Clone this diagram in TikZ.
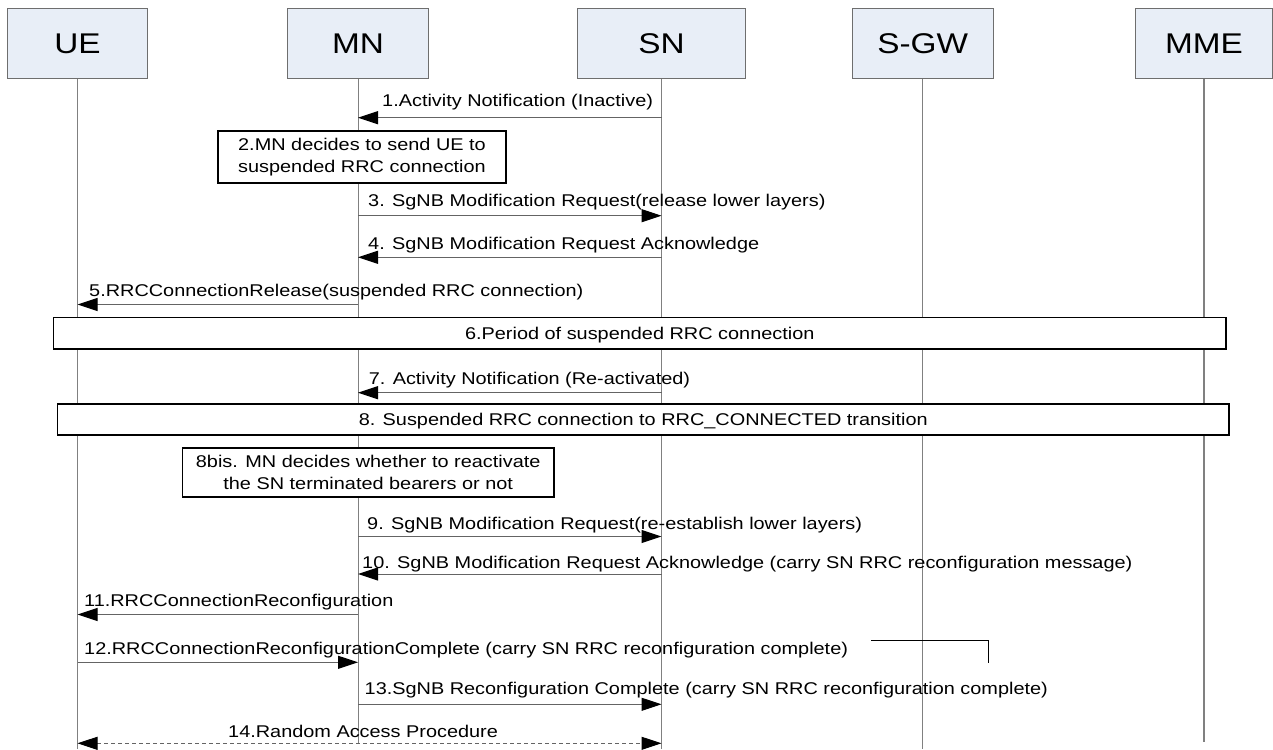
\documentclass[tikz,border=0pt]{standalone}
\usepackage{fontspec}
\setmainfont{Liberation Sans}
\newfontfamily\dfont[FakeStretch=1.17]{Liberation Sans}
\usetikzlibrary{arrows.meta}
\definecolor{hdrfill}{RGB}{232,238,247}
\definecolor{hdrline}{RGB}{110,110,110}
\definecolor{lifegray}{RGB}{128,128,128}
\definecolor{shaft}{RGB}{100,100,100}
\begin{document}
\begin{tikzpicture}[x=1pt,y=-1pt,
  hdr/.style={draw=hdrline,line width=1pt,fill=hdrfill,minimum height=70pt,inner sep=0pt,
    font=\dfont\fontsize{28.5}{34}\selectfont},
  life/.style={draw=lifegray,line width=1pt},
  msg/.style={draw=shaft,line width=1pt,-{Triangle[length=20pt,width=13pt,color=black]}},
  both/.style={draw=shaft,line width=1pt,dash pattern=on 4pt off 3pt,
    {Triangle[length=20pt,width=13pt,color=black]}-{Triangle[length=20pt,width=13pt,color=black]}},
  lbl/.style={anchor=base west,inner sep=0pt,font=\dfont\fontsize{17}{20}\selectfont},
  stepbox/.style={draw=black,line width=1.5pt,fill=white,inner sep=0pt,
    font=\dfont\fontsize{17}{22}\selectfont,align=center},
  onebox/.style={stepbox,text height=12.2pt,text depth=0pt},
  stray/.style={draw=black,line width=1pt}]
\useasboundingbox (0,0) rectangle (1273,749);

% header boxes
\node[hdr,minimum width=140pt] (ue) at (77.5,44) {UE};
\node[hdr,minimum width=141pt] (mn) at (358,44) {MN};
\node[hdr,minimum width=168pt] (sn) at (661.5,44) {SN};
\node[hdr,minimum width=141pt] (sgw) at (922.7,44) {S-GW};
\node[hdr,minimum width=137pt] (mme) at (1204,44) {MME};

% lifelines
\draw[life] (ue.south) -- (ue.south |- 0,749);
\draw[life] (mn.south) -- (mn.south |- 0,743);
\draw[life] (sn.south) -- (sn.south |- 0,749);
\draw[life] (sgw.south) -- (sgw.south |- 0,749);
\draw[life,line width=1.5pt] (mme.south) -- (mme.south |- 0,741.7);

% 1
\draw[msg] (sn.south |- 0,117.7) -- (mn.south |- 0,117.7);
\node[lbl] (l1) at (382,106.7) {1.Activity Notification (Inactive)};
% 2
\node[stepbox,minimum width=288pt,minimum height=52pt] (b2) at (362,157)
  {2.MN decides to send UE to\\suspended RRC connection};
% 3
\draw[msg] (mn.south |- 0,215.7) -- (sn.south |- 0,215.7);
\node[lbl] (l3) at (368,206.7) {3. SgNB Modification Request(release lower layers)};
% 4
\draw[msg] (sn.south |- 0,257.3) -- (mn.south |- 0,257.3);
\node[lbl] (l4) at (368,249) {4. SgNB Modification Request Acknowledge};
% 5
\draw[msg] (mn.south |- 0,304.5) -- (ue.south |- 0,304.5);
\node[lbl] (l5) at (89,296.7) {5.RRCConnectionRelease(suspended RRC connection)};
% 6
\node[onebox,minimum width=1172.5pt,minimum height=31.3pt] (b6) at (639.75,333.3)
  {6.Period of suspended RRC connection};
% 7
\draw[msg] (sn.south |- 0,392.7) -- (mn.south |- 0,392.7);
\node[lbl] (l7) at (368.6,384) {7. Activity Notification (Re-activated)};
% 8
\node[onebox,minimum width=1171.5pt,minimum height=31pt] (b8) at (643.25,419.5)
  {8. Suspended RRC connection to RRC\_CONNECTED transition};
% 8bis
\node[stepbox,minimum width=371.6pt,minimum height=49pt] (b8bis) at (368.2,472.5)
  {8bis. MN decides whether to reactivate\\the SN terminated bearers or not};
% 9
\draw[msg] (mn.south |- 0,536.5) -- (sn.south |- 0,536.5);
\node[lbl] (l9) at (367,529) {9. SgNB Modification Request(re-establish lower layers)};
% 10
\draw[msg] (sn.south |- 0,574) -- (mn.south |- 0,574);
\node[lbl] (l10) at (362,568) {10. SgNB Modification Request Acknowledge (carry SN RRC reconfiguration message)};
% 11
\draw[msg] (mn.south |- 0,614.5) -- (ue.south |- 0,614.5);
\node[lbl] (l11) at (84,606.7) {11.RRCConnectionReconfiguration};
% 12
\draw[msg] (ue.south |- 0,662.3) -- (mn.south |- 0,662.3);
\node[lbl] (l12) at (84,654) {12.RRCConnectionReconfigurationComplete (carry SN RRC reconfiguration complete)};
\coordinate (s1) at (871,640.7);
\coordinate (s2) at (988.3,640.7);
\coordinate (s3) at (988.3,662.7);
\draw[stray] (s1) -- (s2) -- (s3);
% 13
\draw[msg] (mn.south |- 0,704.3) -- (sn.south |- 0,704.3);
\node[lbl] (l13) at (364.5,694) {13.SgNB Reconfiguration Complete (carry SN RRC reconfiguration complete)};
% 14
\draw[both] (ue.south |- 0,743.3) -- (sn.south |- 0,743.3);
\node[lbl] (l14) at (228,737.3) {14.Random Access Procedure};
\end{tikzpicture}
\end{document}
